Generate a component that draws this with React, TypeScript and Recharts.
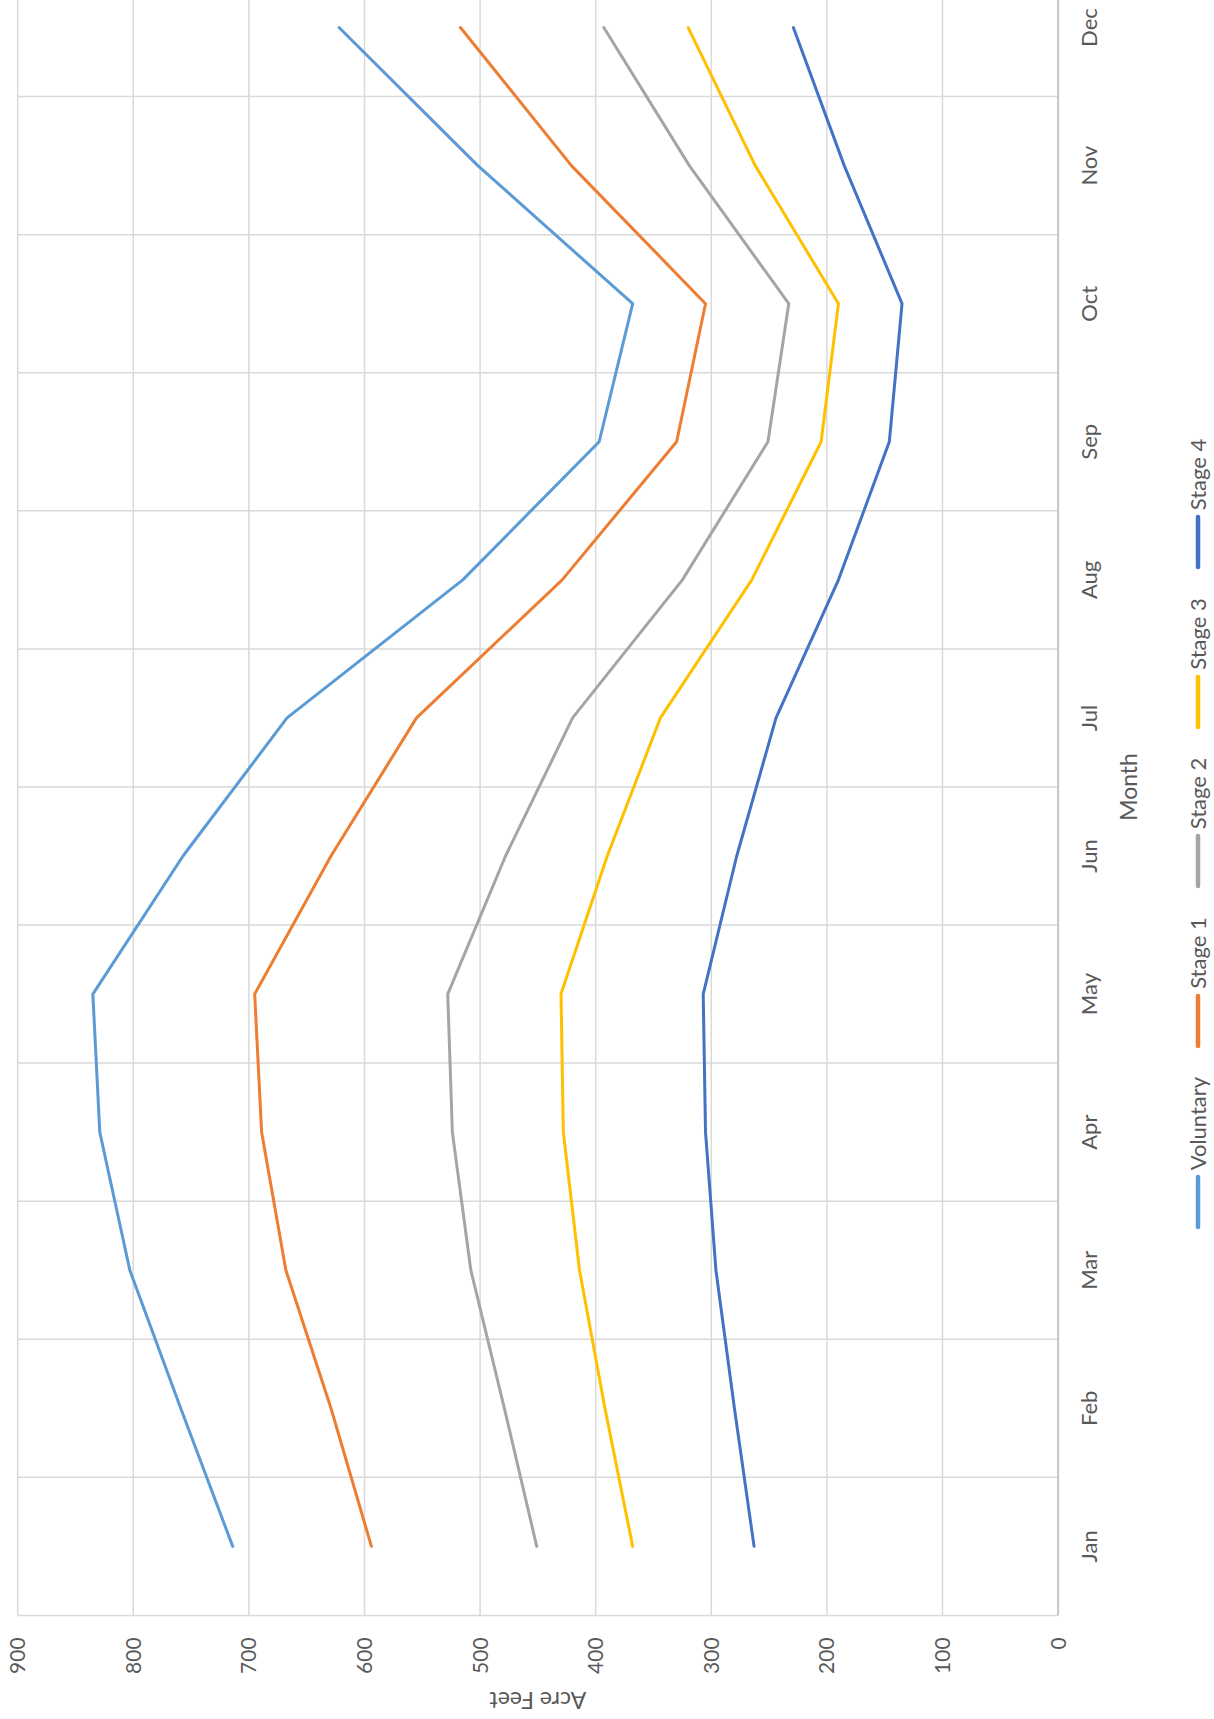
import React from 'react';
import { LineChart, Line, XAxis, YAxis, CartesianGrid, Legend } from 'recharts';

const months = ['Jan', 'Feb', 'Mar', 'Apr', 'May', 'Jun', 'Jul', 'Aug', 'Sep', 'Oct', 'Nov', 'Dec'];
const voluntary = [714, 759, 803, 829, 835, 757, 667, 515, 397, 368, 502, 622];
const stage1 = [594, 629, 668, 689, 695, 629, 555, 429, 330, 305, 421, 517];
const stage2 = [451, 479, 508, 524, 528, 478, 420, 325, 251, 233, 319, 393];
const stage3 = [368, 392, 414, 428, 430, 390, 344, 265, 205, 190, 262, 320];
const stage4 = [263, 280, 296, 305, 307, 278, 244, 190, 146, 135, 185, 229];
const valueTicks = [0, 100, 200, 300, 400, 500, 600, 700, 800, 900];

const seriesNames = ['Voluntary', 'Stage 1', 'Stage 2', 'Stage 3', 'Stage 4'];
const seriesKeys = ['voluntary', 'stage1', 'stage2', 'stage3', 'stage4'];
const seriesColors = ['#5B9BD5', '#ED7D31', '#A5A5A5', '#FFC000', '#4472C4'];
const seriesValues = [voluntary, stage1, stage2, stage3, stage4];

const data = months.map((m, i) => {
  const row: any = { month: m };
  seriesKeys.forEach((k, s) => {
    row[k] = seriesValues[s][i];
  });
  return row;
});

const CHART_W = 1769;
const CHART_H = 1214;
const PLOT_LEFT = 103.6;
const PLOT_RIGHT_MARGIN = 8.5;
const PLOT_TOP = 17.7;
const PLOT_BOTTOM = 1058.1;
const X_AXIS_H = 80;
const plotWidth = CHART_W - PLOT_LEFT - PLOT_RIGHT_MARGIN;
const halfBand = plotWidth / 24;

const FONT = "Lato, 'Liberation Sans', sans-serif";
const TEXT = '#595959';

const renderLegend = (props: any) => {
  const payload = [...(props.payload || [])].sort(
    (a: any, b: any) => seriesNames.indexOf(a.value) - seriesNames.indexOf(b.value)
  );
  return (
    <div
      style={{
        display: 'flex',
        justifyContent: 'center',
        alignItems: 'center',
        gap: 28,
        width: '100%',
        height: 30,
        fontFamily: FONT,
      }}
    >
      {payload.map((p: any) => (
        <div key={p.value} style={{ display: 'flex', alignItems: 'center' }}>
          <svg width={56} height={10} style={{ display: 'block' }}>
            <line x1={3} y1={5} x2={53} y2={5} stroke={p.color} strokeWidth={4.5} strokeLinecap="round" />
          </svg>
          <span style={{ marginLeft: 4, fontSize: 22, lineHeight: '30px', color: TEXT, whiteSpace: 'nowrap' }}>
            {p.value}
          </span>
        </div>
      ))}
    </div>
  );
};

// Category boundaries: midway between the axis' own tick coordinates.
const bandBoundaries = (props: any) => {
  try {
    const axis = props && props.xAxis;
    let coords: number[] = [];
    const ticks = axis && axis.ticks;
    if (Array.isArray(ticks) && ticks.length > 1 && typeof ticks[0] === 'object' && ticks[0] && 'coordinate' in ticks[0]) {
      coords = ticks.map((t: any) => t.coordinate);
    } else if (axis && axis.scale) {
      const sc = axis.scale;
      if (typeof sc === 'function') coords = months.map((m) => sc(m));
      else if (typeof sc.map === 'function') coords = months.map((m) => sc.map(m));
    }
    coords = coords.filter((c) => typeof c === 'number' && isFinite(c));
    if (coords.length < 2) return [];
    const step = coords[1] - coords[0];
    const out = coords.map((c) => c - step / 2);
    out.push(coords[coords.length - 1] + step / 2);
    return out;
  } catch (e) {
    return [];
  }
};

export default function App() {
  return (
    <div
      style={{
        position: 'absolute',
        left: 0,
        top: 0,
        width: 1214,
        height: 1719,
        overflow: 'hidden',
        background: '#ffffff',
        fontFamily: FONT,
      }}
    >
      <div
        style={{
          position: 'absolute',
          left: 0,
          top: 0,
          width: CHART_W,
          height: CHART_H,
          transformOrigin: '0 0',
          transform: 'translate(0px, 1719px) rotate(-90deg)',
        }}
      >
        <LineChart
          width={CHART_W}
          height={CHART_H}
          data={data}
          margin={{
            top: PLOT_TOP,
            right: PLOT_RIGHT_MARGIN,
            left: 0,
            bottom: CHART_H - PLOT_BOTTOM - X_AXIS_H,
          }}
        >
          <CartesianGrid
            stroke="#D9D9D9"
            strokeWidth={1.5}
            horizontal
            vertical
            syncWithTicks
            verticalCoordinatesGenerator={bandBoundaries}
          />
          <XAxis
            dataKey="month"
            type="category"
            padding={{ left: halfBand, right: halfBand }}
            height={X_AXIS_H}
            tickSize={0}
            tickLine={false}
            tickMargin={23}
            axisLine={{ stroke: '#C6C6C6', strokeWidth: 2 }}
            tick={{ fill: TEXT, fontSize: 22, fontFamily: FONT }}
            interval={0}
            label={(props: any) => {
              const vb = props.viewBox || {};
              return (
                <text
                  x={vb.x + vb.width / 2}
                  y={vb.y + 79}
                  textAnchor="middle"
                  fill={TEXT}
                  fontSize={23}
                  fontFamily={FONT}
                >
                  Month
                </text>
              );
            }}
          />
          <YAxis
            type="number"
            domain={[0, 900]}
            ticks={valueTicks}
            width={PLOT_LEFT}
            tickSize={0}
            tickLine={false}
            tickMargin={22}
            axisLine={false}
            tick={{ fill: TEXT, fontSize: 21, fontFamily: FONT }}
            interval={0}
            label={(props: any) => {
              const vb = props.viewBox || {};
              const cx = 27;
              const cy = vb.y + vb.height / 2;
              return (
                <text
                  x={cx}
                  y={cy}
                  textAnchor="middle"
                  fill={TEXT}
                  fontSize={23}
                  fontFamily={FONT}
                  transform={`rotate(-90, ${cx}, ${cy})`}
                >
                  Acre Feet
                </text>
              );
            }}
          />
          {seriesKeys.map((k, s) => (
            <Line
              key={k}
              type="linear"
              dataKey={k}
              name={seriesNames[s]}
              stroke={seriesColors[s]}
              strokeWidth={3}
              strokeLinejoin="round"
              strokeLinecap="round"
              dot={false}
              activeDot={false}
              isAnimationActive={false}
            />
          ))}
          <Legend
            layout="horizontal"
            verticalAlign="middle"
            align="center"
            content={renderLegend}
            wrapperStyle={{ position: 'absolute', top: 1183, left: 0, width: CHART_W, height: 30 }}
          />
        </LineChart>
      </div>
    </div>
  );
}
